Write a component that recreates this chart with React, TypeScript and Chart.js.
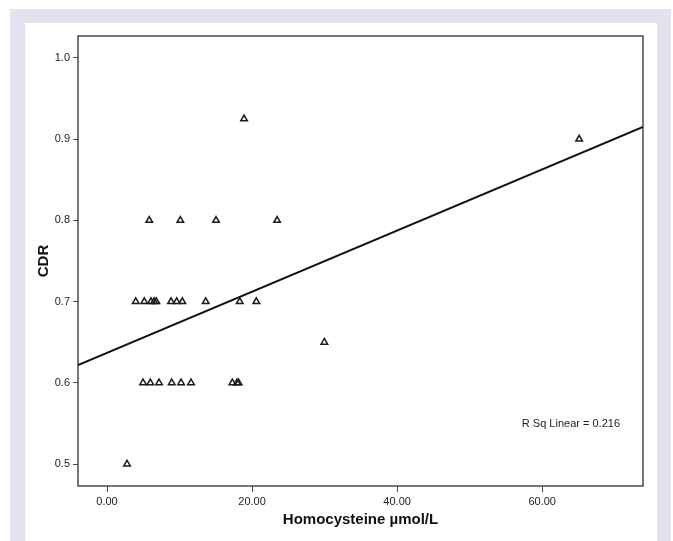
import React, { useEffect, useRef } from "react";
import { Chart, registerables } from "chart.js";

Chart.register(...registerables);

// Scatter data: Homocysteine (µmol/L) vs CDR
const homocysteine = [
  2.76,
  4.97, 5.97, 7.17, 8.92, 10.21, 11.59, 17.28, 17.93, 18.14,
  29.97,
  3.96, 5.14, 6.07, 6.5, 6.8, 8.83, 9.61, 10.39, 13.61, 18.3, 20.59,
  5.83, 10.11, 15.03, 23.45,
  65.1,
  18.9,
];
const cdr = [
  0.5,
  0.6, 0.6, 0.6, 0.6, 0.6, 0.6, 0.6, 0.6, 0.6,
  0.65,
  0.7, 0.7, 0.7, 0.7, 0.7, 0.7, 0.7, 0.7, 0.7, 0.7, 0.7,
  0.8, 0.8, 0.8, 0.8,
  0.9,
  0.925,
];

// Fit line endpoints
const fitX = [-4.0, 73.9];
const fitY = [0.622, 0.915];

const xTicks = [0, 20, 40, 60];
const yTicks = [0.5, 0.6, 0.7, 0.8, 0.9, 1.0];
const xRange = [-4.0, 73.9];
const yRange = [0.473, 1.027];

const rSqLabel = "R Sq Linear = 0.216";
const xTitle = "Homocysteine µmol/L";
const yTitle = "CDR";

const FONT = "'Liberation Sans', Arial, sans-serif";

export default function App() {
  const ref = useRef<HTMLCanvasElement>(null);

  useEffect(() => {
    if (!ref.current) return;
    const framePlugin = {
      id: "frame",
      beforeDatasetsDraw(chart: any) {
        const { ctx, chartArea } = chart;
        ctx.save();
        ctx.strokeStyle = "#4a4a4a";
        ctx.lineWidth = 1.5;
        ctx.strokeRect(chartArea.left, chartArea.top, chartArea.right - chartArea.left, chartArea.bottom - chartArea.top);
        ctx.restore();
      },
      afterDraw(chart: any) {
        const { ctx, chartArea } = chart;
        ctx.save();
        ctx.fillStyle = "#222";
        ctx.font = `11px ${FONT}`;
        ctx.textAlign = "right";
        ctx.textBaseline = "middle";
        ctx.fillText(rSqLabel, chartArea.right - 23, 424);
        ctx.restore();
      },
    };

    const chart = new Chart(ref.current, {
      type: "scatter",
      data: {
        datasets: [
          {
            type: "line",
            data: fitX.map((x, i) => ({ x, y: fitY[i] })),
            borderColor: "#111",
            borderWidth: 2,
            pointRadius: 0,
            fill: false,
          } as any,
          {
            data: homocysteine.map((x, i) => ({ x, y: cdr[i] })),
            pointStyle: "triangle",
            pointRadius: 3.8,
            pointBorderWidth: 1.5,
            borderColor: "#1a1a1a",
            backgroundColor: "rgba(255,255,255,0)",
          },
        ],
      },
      options: {
        responsive: false,
        animation: false,
        layout: { padding: { left: 0, right: 30, top: 36, bottom: 0 } },
        plugins: { legend: { display: false }, tooltip: { enabled: false } },
        scales: {
          x: {
            type: "linear",
            min: xRange[0],
            max: xRange[1],
            afterFit: (s: any) => { s.height = 55; },
            afterBuildTicks: (s: any) => { s.ticks = xTicks.map((v) => ({ value: v })); },
            border: { display: false },
            grid: { drawOnChartArea: false, drawTicks: true, tickLength: 6, color: "#4a4a4a", lineWidth: 1 },
            ticks: {
              padding: 3,
              color: "#222",
              font: { family: FONT, size: 11 },
              maxRotation: 0,
              callback: (v: any) => Number(v).toFixed(2),
            },
            title: {
              display: true,
              text: xTitle,
              color: "#111",
              font: { family: FONT, size: 15, weight: "bold" },
              padding: { top: 0, bottom: 12 },
            },
          },
          y: {
            type: "linear",
            min: yRange[0],
            max: yRange[1],
            afterFit: (s: any) => { s.width = 78; },
            afterBuildTicks: (s: any) => { s.ticks = yTicks.map((v) => ({ value: v })); },
            border: { display: false },
            grid: { drawOnChartArea: false, drawTicks: true, tickLength: 5, color: "#4a4a4a", lineWidth: 1 },
            ticks: {
              padding: 3,
              color: "#222",
              font: { family: FONT, size: 11 },
              callback: (v: any) => Number(v).toFixed(1),
            },
            title: {
              display: true,
              text: yTitle,
              color: "#111",
              font: { family: FONT, size: 15, weight: "bold" },
              padding: { top: 35, bottom: 0 },
            },
          },
        },
      },
      plugins: [framePlugin],
    });
    return () => chart.destroy();
  }, []);

  return (
    <div style={{ position: "fixed", left: 0, top: 0, width: 673, height: 541, background: "#fff", overflow: "hidden" }}>
      <div style={{ position: "absolute", left: 10, top: 9, width: 661, height: 540, background: "#e3e3ef" }} />
      <div style={{ position: "absolute", left: 25, top: 23, width: 632, height: 530, background: "#fff" }} />
      <canvas ref={ref} width={673} height={541} style={{ position: "absolute", left: 0, top: 0, width: 673, height: 541 }} />
    </div>
  );
}
